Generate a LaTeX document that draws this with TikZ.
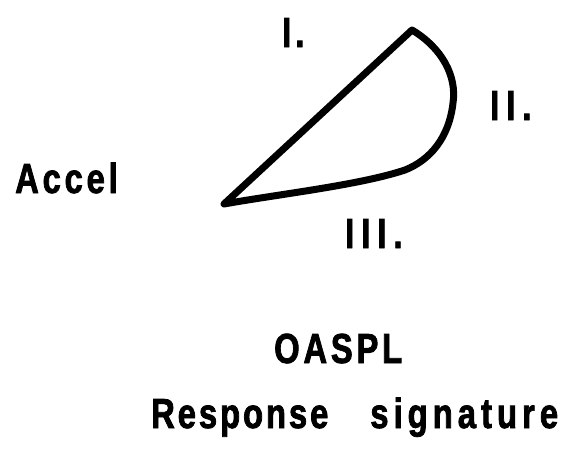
\documentclass[tikz,border=0pt]{standalone}
\usepackage{fontspec}
\setmainfont{Liberation Sans}[FakeStretch=0.78,LetterSpace=9,FakeBold=1.8]
\begin{document}
\begin{tikzpicture}[x=1pt,y=-1pt,
  lbl/.style={inner sep=0pt,anchor=base west,font=\fontsize{42}{42}\selectfont\bfseries},
  sig/.style={line width=7pt,line join=round,line cap=round}]
\useasboundingbox (0,0) rectangle (570,451);
\coordinate (tip) at (224,204);
\coordinate (top) at (412,30);
\coordinate (right) at (453,103);
\coordinate (low) at (405,170);
\draw[sig] (tip) -- (top) .. controls (442,48) and (457,76) .. (right)
  .. controls (449,138) and (430,160) .. (low)
  .. controls (360,185) and (280,194) .. (tip) -- cycle;
\node[lbl] (accel) at (15,193) {Accel};
\node[lbl] (i) at (282,47) {I\hspace{4pt}.};
\node[lbl] (ii) at (490,120) {I\hspace{7pt}I\hspace{7pt}.};
\node[lbl] (iii) at (345,248) {I\hspace{7pt}I\hspace{7pt}I\hspace{7pt}.};
\node[lbl] (oaspl) at (274,363) {OASPL};
\node[lbl,font=\fontsize{42}{42}\selectfont\bfseries\addfontfeature{LetterSpace=7}] (resp) at (151,428) {Response\hspace{42pt}{\addfontfeature{LetterSpace=12}signature}};
\end{tikzpicture}
\end{document}
